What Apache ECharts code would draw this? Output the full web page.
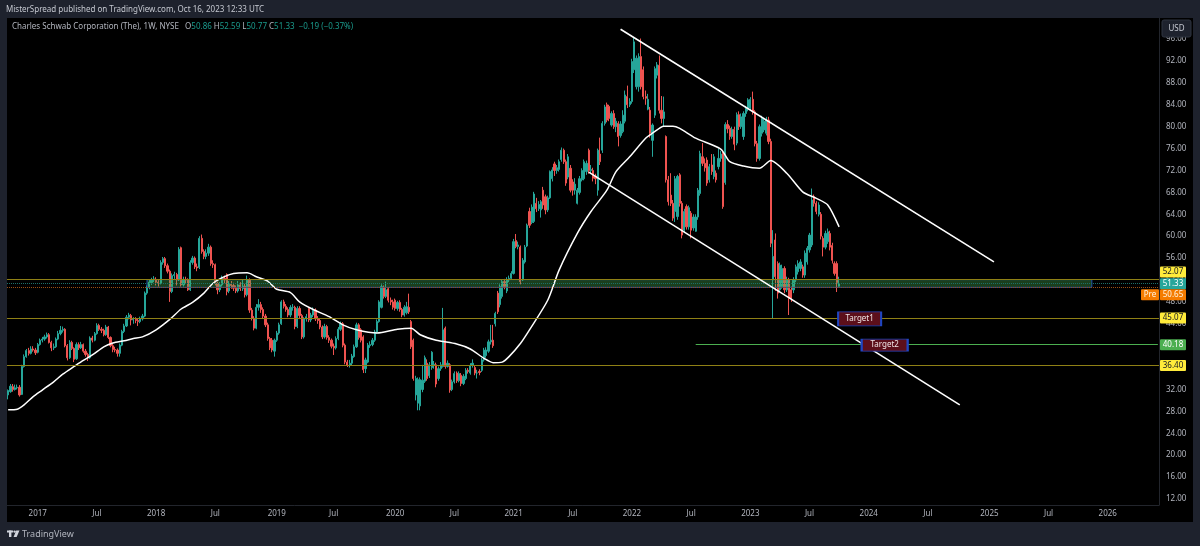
<!DOCTYPE html>
<html>
<head>
<meta charset="utf-8">
<title>SCHW 1W</title>
<style>
    html, body { margin: 0; padding: 0; background: #1e222d; }
    #chart { width: 1200px; height: 546px; }
</style>
<script src="https://cdn.jsdelivr.net/npm/echarts@6/dist/echarts.min.js"></script>
</head>
<body>
<div id="chart"></div>
<script>
// weekly bars, each row: open, close, low, high
const bars2016 = [
    [31.0,31.8,30.2,32.0],[31.6,32.6,31.4,33.0],[32.5,32.0,31.6,33.0],[32.0,32.3,31.8,32.9],[32.3,32.4,32.0,32.9],
    [32.4,31.0,30.7,32.8],[31.1,36.2,31.0,36.5],[36.2,38.0,36.0,38.4],[38.0,39.1,37.8,39.4],[39.1,38.6,38.2,39.6],
    [38.6,39.4,38.4,39.9],[39.4,39.2,38.9,39.9],[39.2,38.7,38.3,39.6]
];
const bars2017 = [
    [38.8,40.2,38.6,40.5],[40.2,41.0,40.0,41.3],[41.0,41.2,40.6,41.6],[41.2,41.6,40.9,42.0],[41.6,42.0,41.3,42.4],
    [42.0,40.6,40.4,42.3],[40.6,39.6,39.0,40.9],[39.6,39.8,39.2,40.4],[39.8,41.2,39.6,41.5],[41.2,42.2,41.0,42.7],
    [42.2,42.8,41.9,43.6],[42.8,43.0,42.4,43.5],[43.0,40.0,39.7,43.2],[40.0,37.8,37.3,40.3],[37.8,40.6,37.6,41.0],
    [40.6,39.5,39.2,40.9],[39.5,37.5,37.0,39.7],[37.6,40.2,37.4,40.6],[40.2,39.6,39.2,40.6],[39.6,40.2,39.4,40.7],
    [40.2,39.0,38.7,40.4],[39.0,38.4,38.0,39.4],[38.4,37.8,37.2,38.7],[37.8,41.4,37.6,41.7],[41.4,41.0,40.6,41.8],
    [41.0,42.2,40.8,42.5],[42.2,43.7,42.0,44.1],[43.7,43.0,42.7,44.0],[43.0,42.8,42.3,43.4],[42.8,42.0,41.7,43.1],
    [42.0,43.4,41.8,43.8],[43.4,41.5,41.2,43.6],[41.5,40.0,39.7,41.7],[40.0,39.3,38.8,40.3],[39.3,39.2,38.8,39.8],
    [39.2,38.6,38.0,39.5],[38.6,40.1,38.0,40.4],[40.1,42.6,39.9,42.9],[42.6,43.6,42.3,44.0],[43.6,45.2,43.4,45.6],
    [45.2,45.6,44.8,46.0],[45.5,44.7,43.7,45.8],[44.7,44.8,44.0,45.2],[44.8,44.6,44.1,45.2],[44.6,44.4,43.6,45.0],
    [44.4,44.9,44.1,45.3],[44.9,45.4,44.6,45.8],[45.4,49.6,45.2,49.9],[49.6,50.6,49.3,51.0],[50.6,51.6,50.3,52.0],
    [51.5,52.0,51.1,52.4],[52.0,52.2,51.6,52.7]
];
const bars2018 = [
    [52.1,51.6,51.0,52.5],[51.6,51.4,50.8,52.0],[51.4,55.2,51.2,55.6],[55.2,55.9,54.8,56.2],[55.9,54.6,54.2,56.2],
    [54.6,53.6,53.2,55.0],[53.6,49.9,48.0,53.9],[49.9,52.8,49.6,53.2],[52.8,53.0,52.2,53.5],[53.0,52.0,51.0,53.3],
    [52.0,57.6,51.8,58.0],[57.9,51.1,50.8,58.1],[51.1,52.1,50.8,52.6],[52.1,52.0,51.4,52.6],[52.0,50.2,50.0,52.3],
    [50.2,55.2,50.0,55.6],[55.2,56.0,54.8,56.4],[56.0,54.4,54.0,56.3],[54.4,54.2,53.6,55.0],[54.3,59.6,54.0,60.0],
    [59.6,57.2,56.8,60.3],[57.2,56.3,55.8,57.6],[56.3,56.9,55.8,57.6],[56.9,58.0,56.4,58.6],[58.0,55.0,54.6,58.3],
    [55.0,54.8,54.2,55.6],[54.8,51.4,51.0,55.0],[51.4,50.2,49.4,51.7],[50.2,51.1,49.8,51.6],[51.1,52.3,50.8,52.8],
    [52.3,52.0,51.4,52.8],[53.0,49.9,49.2,53.2],[50.0,51.2,49.6,51.8],[51.2,51.0,50.4,51.8],[51.0,50.5,50.0,51.5],
    [50.5,50.0,49.6,51.0],[50.0,51.1,49.7,51.8],[51.1,50.4,50.0,51.6],[50.4,50.9,50.0,52.0],[50.9,49.3,48.8,51.3],
    [49.3,52.0,49.0,52.8],[52.0,46.5,46.0,52.3],[46.5,45.0,44.6,46.9],[45.0,43.2,42.8,45.4],[43.2,47.0,43.0,47.6],
    [47.0,47.5,46.4,48.5],[47.5,46.6,46.0,48.0],[46.6,45.4,45.0,47.0],[45.4,43.8,43.4,45.8],[43.8,41.3,40.9,44.2],
    [41.3,39.6,39.2,41.6],[41.0,39.2,38.8,41.4],[39.0,41.0,38.0,41.3]
];
const bars2019 = [
    [41.0,42.3,40.7,42.7],[42.3,43.8,42.0,44.2],[44.0,48.0,43.8,48.3],[48.0,47.2,46.8,48.4],[47.2,46.6,46.2,47.6],
    [46.6,45.6,45.2,47.0],[45.6,47.0,45.2,47.4],[47.0,47.0,46.4,47.6],[47.0,43.5,43.0,47.3],[43.5,46.8,43.2,47.2],
    [46.8,45.5,45.0,47.2],[45.5,41.6,41.2,45.8],[41.6,44.9,41.3,45.2],[44.9,45.3,44.4,45.8],[46.8,44.7,44.3,47.0],
    [44.7,45.6,44.3,46.0],[45.6,46.5,45.2,47.0],[46.5,44.9,44.5,46.8],[44.9,44.6,44.0,45.4],[44.6,43.4,43.0,45.0],
    [43.4,41.6,41.2,43.7],[41.6,43.5,41.3,44.0],[43.5,41.5,41.1,43.8],[41.5,41.0,40.5,41.9],[41.0,39.9,39.5,41.3],
    [39.9,39.6,38.3,40.4],[39.6,41.3,39.3,41.7],[41.3,43.0,41.0,43.4],[43.0,44.0,42.7,44.4],[44.0,40.1,39.7,44.3],
    [40.1,37.0,36.6,40.4],[37.0,36.4,36.1,37.4],[36.4,36.8,36.0,37.4],[36.8,38.1,36.4,38.5],[38.0,39.8,37.8,40.2],
    [39.8,43.8,39.6,44.2],[43.8,41.5,41.1,44.1],[42.9,41.0,40.6,43.2],[41.6,35.6,35.0,41.9],[35.8,37.4,35.0,37.8],
    [37.0,40.1,36.8,40.5],[40.0,40.2,39.6,40.8],[40.2,41.0,39.9,41.4],[41.0,42.5,40.7,42.9],[42.5,44.4,42.2,44.8],
    [44.4,48.0,44.2,48.3],[47.0,50.8,46.8,51.2],[50.7,49.0,48.6,51.0],[49.0,50.2,48.7,51.7],[50.4,48.3,47.9,50.7],
    [48.3,48.0,47.4,48.8],[48.0,47.0,46.6,48.4]
];
const bars2020 = [
    [48.3,46.8,46.4,48.6],[46.8,47.9,46.4,48.2],[47.9,46.6,46.2,48.3],[46.6,45.6,45.2,46.9],[45.6,47.0,45.3,47.4],
    [46.0,47.1,45.7,48.0],[47.0,46.2,45.8,49.5],[44.4,39.8,39.4,44.7],[41.0,34.0,33.6,41.3],[31.0,34.0,30.0,34.5],
    [29.5,33.8,28.2,34.2],[29.0,33.8,28.2,34.2],[32.0,33.7,31.5,36.5],[33.5,37.8,33.2,38.2],[36.8,34.0,33.6,37.5],
    [34.5,36.5,34.1,37.0],[36.0,38.8,35.6,39.0],[36.4,36.6,35.8,37.2],[36.5,33.0,32.4,36.9],[34.0,35.8,33.6,36.2],
    [35.8,36.5,35.4,37.0],[36.2,42.9,36.0,46.9],[43.2,36.2,35.8,43.5],[36.2,36.8,36.0,37.3],[36.5,31.9,31.4,36.8],
    [32.0,33.4,31.7,33.8],[33.4,34.9,33.1,35.3],[35.0,33.6,33.2,35.3],[33.6,34.9,33.3,35.3],[34.6,33.1,32.6,35.0],
    [33.1,34.4,32.8,34.8],[34.0,35.5,33.7,35.9],[35.5,35.3,34.9,35.9],[35.0,36.4,34.7,36.8],[36.4,36.8,36.0,37.5],
    [36.0,35.0,34.6,36.4],[35.0,35.0,34.0,35.6],[35.3,35.1,34.6,35.7],[35.5,37.4,35.2,37.8],[37.4,39.2,37.1,39.6],
    [38.2,39.2,37.8,39.7],[39.0,40.7,38.7,41.1],[40.7,41.0,40.2,43.8],[41.0,40.0,39.6,43.8],[44.0,45.9,43.5,46.2],
    [49.6,46.2,45.8,50.0],[47.5,50.8,47.0,51.2],[49.0,51.7,48.6,52.1],[51.7,50.8,50.3,52.2],[50.0,52.0,49.6,52.5],
    [52.0,52.3,51.6,52.8],[52.3,53.2,52.0,53.6]
];
const bars2021 = [
    [53.2,59.0,53.0,59.5],[59.2,58.1,57.8,60.4],[58.1,58.4,57.6,59.0],[58.0,51.7,51.2,58.3],[52.0,55.6,51.8,56.0],
    [55.3,58.0,55.0,58.4],[58.2,62.0,58.0,62.3],[64.5,62.0,61.5,65.2],[62.5,65.3,62.2,65.8],[62.7,67.7,62.4,68.1],
    [66.0,65.0,64.4,67.0],[65.0,65.8,64.6,66.4],[64.8,66.3,63.4,66.6],[68.4,65.7,65.0,69.0],[67.2,64.8,64.0,67.6],
    [64.8,67.0,64.4,67.4],[67.0,71.8,66.8,72.0],[70.5,72.1,70.0,72.6],[73.2,72.0,71.0,73.6],[72.0,72.5,71.4,73.0],
    [72.2,73.6,71.8,74.0],[74.0,75.7,73.6,76.2],[75.7,73.6,73.2,76.0],[73.6,69.7,69.2,74.0],[70.8,74.5,70.4,75.0],
    [72.4,68.4,68.0,73.0],[69.9,68.4,67.4,70.4],[68.4,69.5,67.6,70.6],[66.0,68.4,65.8,68.8],[68.0,70.5,67.6,71.0],
    [70.3,72.0,70.0,72.4],[70.5,73.6,70.2,74.0],[71.8,73.3,71.2,73.8],[75.7,72.0,71.4,76.0],[72.0,72.2,71.4,73.0],
    [72.0,70.6,70.0,72.5],[71.0,70.5,69.5,71.4],[68.4,75.7,67.4,76.0],[75.0,73.6,73.0,78.0],[75.7,80.6,75.2,81.0],
    [80.6,83.6,80.2,84.0],[84.0,81.2,80.8,84.4],[83.7,81.5,81.0,84.0],[80.3,82.4,80.0,82.8],[82.4,80.0,79.6,83.0],
    [80.0,81.0,79.0,81.6],[80.6,78.2,76.4,81.0],[78.4,80.5,78.0,81.0],[79.1,82.1,78.8,83.0],[81.0,85.8,80.6,86.6],
    [85.5,84.0,83.4,87.5],[84.0,84.6,83.6,85.2]
];
const bars2022 = [
    [84.6,91.9,84.2,92.4],[90.4,95.5,89.8,96.4],[87.3,92.5,86.8,93.0],[87.3,92.8,86.4,93.4],[92.8,87.3,86.8,96.1],
    [90.4,85.5,85.0,91.0],[85.5,85.2,84.0,86.6],[83.2,85.0,83.0,86.0],[83.0,78.8,78.0,83.6],[77.5,80.3,74.5,80.6],
    [82.1,90.6,81.6,91.0],[89.4,91.3,88.8,91.8],[91.2,83.0,82.4,93.0],[83.0,81.5,80.6,85.6],[81.5,82.7,80.0,85.5],
    [78.2,70.3,69.8,78.4],[70.3,66.3,65.6,71.0],[67.5,66.0,65.5,71.5],[66.0,63.3,62.8,66.6],[64.5,70.5,62.6,71.0],
    [63.6,70.9,63.0,71.2],[71.2,66.0,65.4,71.5],[66.0,60.2,59.6,66.4],[61.1,64.5,60.6,65.0],[65.4,61.7,61.2,65.8],
    [61.7,65.2,61.2,65.6],[64.2,61.1,59.6,64.6],[61.5,63.5,61.0,64.0],[60.9,63.5,60.8,64.0],[63.5,68.4,63.0,68.8],
    [67.8,75.1,67.4,75.6],[74.5,73.3,72.8,77.0],[73.3,72.5,71.8,74.2],[73.9,69.7,69.2,74.4],[70.3,72.7,69.8,73.2],
    [73.0,71.8,71.2,75.0],[70.9,74.5,70.4,75.0],[71.5,70.3,69.8,72.0],[72.7,74.2,72.2,76.0],[74.2,75.0,73.6,75.6],
    [75.1,65.4,65.0,75.5],[69.8,80.4,69.4,80.8],[80.4,79.6,78.8,81.2],[79.7,78.2,77.6,80.2],[78.2,79.5,77.8,80.0],
    [79.5,76.8,75.7,80.0],[77.0,82.2,76.6,82.6],[82.2,80.0,79.4,82.8],[80.0,81.8,79.6,82.4],[78.2,82.4,77.6,82.8],
    [82.4,83.3,81.8,83.8],[83.3,84.9,82.8,85.2]
];
const bars2023 = [
    [83.4,85.0,82.9,85.4],[85.0,82.7,82.2,86.4],[82.7,76.9,76.4,83.0],[76.9,74.2,73.6,77.4],[74.2,80.0,73.8,80.4],
    [78.8,81.5,78.2,82.0],[79.4,81.0,79.0,81.6],[78.8,81.2,78.4,81.8],[81.2,77.3,76.8,81.8],[77.3,58.7,58.0,77.8],
    [52.0,56.3,45.0,61.1],[59.3,52.6,50.0,60.5],[55.0,49.6,48.6,55.4],[50.2,54.7,49.8,55.2],[50.8,54.1,50.4,54.8],
    [54.1,50.2,49.6,54.5],[50.2,52.0,49.8,52.6],[52.0,48.6,45.6,52.4],[50.2,48.6,48.0,50.8],[50.2,52.0,49.6,52.5],
    [52.0,54.4,51.6,54.8],[53.5,55.0,53.0,55.6],[54.1,55.3,53.6,55.8],[54.4,52.9,52.4,54.8],[52.9,56.9,52.4,57.4],
    [55.3,57.8,54.8,58.2],[57.5,60.2,57.0,60.6],[58.4,66.6,58.0,68.7],[67.2,66.0,65.4,67.6],[66.0,64.5,64.0,66.4],
    [64.0,65.7,63.6,66.2],[64.0,60.0,59.4,64.4],[59.6,58.0,56.3,60.0],[58.0,60.5,57.6,61.0],[59.0,60.8,58.6,61.4],
    [60.5,58.0,57.4,61.0],[58.3,55.6,55.0,58.8],[55.0,53.2,52.8,55.4],[55.0,51.52,49.8,55.4],[50.86,51.33,50.77,52.59]
];

// moving average: [week index, price]
const maPoints = [
    [0,28.3],[4,28.4],[7,29.2],[11,30.7],[15,31.9],[20,33.4],[24,34.8],[29,36.2],[33,37.3],[37,38.3],[42,39.8],
    [46,40.5],[51,40.9],[55,41.3],[59,41.6],[65,42.9],[71,44.8],[76,46.7],[81,47.9],[86,49.6],[90,51.4],[95,52.6],
    [99,53.2],[105,53.3],[109,52.6],[114,51.8],[118,50.3],[124,49.7],[128,48.0],[134,46.6],[141,45.3],[147,43.8],
    [153,42.9],[162,42.3],[171,43.0],[177,43.2],[181,42.0],[188,41.0],[197,40.3],[203,39.4],[209,37.7],[213,36.9],
    [217,37.0],[220,38.0],[225,40.4],[229,42.9],[237,48.3],[242,53.8],[250,60.5],[256,64.5],[263,68.4],[267,71.8],
    [273,74.5],[280,77.9],[283,78.8],[288,80.1],[292,80.1],[295,79.7],[302,77.9],[313,75.9],[317,73.6],[323,72.8],
    [330,72.4],[335,73.8],[342,71.5],[349,68.1],[355,66.9],[360,65.7],[365,61.7]
];

// drawn channel and levels
const channelUpper = [[269, 97.8], [433, 55.3]];
const channelLower = [[255, 71.7], [418, 29.2]];
const yellowLevels = [52.07, 45.07, 36.40];
const greenLevel = 40.18;
const greenLevelStart = 302;
const lastPrice = 51.33;
const prePrice = 50.65;
const zoneWeeks = [61, 476];
const targetNames = ['Target1', 'Target2'];
const targetSpots = [[374, 44.9], [385, 40.1]];

// axes
const weekCount = 506;
const firstWeek = Date.UTC(2016, 9, 3);
const priceTicks = [12,16,20,24,28,32,36,40,44,48,52,56,60,64,68,72,76,80,84,88,92,96];
const xTickDates = ['2017-01-02','2017-07-03','2018-01-01','2018-07-02','2019-01-07','2019-07-01','2020-01-06',
    '2020-07-06','2021-01-04','2021-07-05','2022-01-03','2022-07-04','2023-01-02','2023-07-03','2024-01-01',
    '2024-07-01','2025-01-06','2025-07-07','2026-01-05'];
const xTickLabels = ['2017','Jul','2018','Jul','2019','Jul','2020','Jul','2021','Jul','2022','Jul','2023','Jul',
    '2024','Jul','2025','Jul','2026'];

// price tags on the right axis
const tagTexts = ['52.07', '51.33', '50.65', '45.07', '40.18', '36.40'];
const tagValues = [52.07, 51.33, 50.65, 45.07, 40.18, 36.40];
const tagShifts = [-7.5, 0, 7.5, 0, 0, 0];
const tagFills = ['#ffeb3b', '#26a69a', '#f57c00', '#ffeb3b', '#4caf50', '#ffeb3b'];
const tagInks = ['#131722', '#ffffff', '#fff3e0', '#131722', '#ffffff', '#131722'];

const UP = '#26a69a';
const DOWN = '#ef5350';
const FONT = '"Noto Sans", sans-serif';

const weeks = [];
for (let i = 0; i < weekCount; i++) {
    weeks.push(new Date(firstWeek + i * 7 * 86400000).toISOString().slice(0, 10));
}
const bars = [].concat(bars2016, bars2017, bars2018, bars2019, bars2020, bars2021, bars2022, bars2023);

document.addEventListener('DOMContentLoaded', function() {
    const chart = echarts.init(document.getElementById('chart'), null, { renderer: 'canvas' });
    chart.setOption(buildOption());
    chart.setOption({ graphic: buildTags(chart) });
});

function buildOption() {
    const levelLines = yellowLevels.map(v => ({
        yAxis: v,
        lineStyle: { color: '#8f8015', width: 1.2, type: 'solid' }
    }));
    // 现价、盘前虚线
    levelLines.push({ yAxis: lastPrice, lineStyle: { color: '#1b6f68', width: 1, type: 'dotted' } });
    levelLines.push({ yAxis: prePrice, lineStyle: { color: '#9c4f12', width: 1, type: 'dotted' } });

    const segment = (pts, color, width) => [
        { coord: pts[0], lineStyle: { color: color, width: width, type: 'solid' } },
        { coord: pts[1] }
    ];

    return {
        animation: false,
        backgroundColor: '#1e222d',
        grid: { left: 7, right: 41, top: 18, bottom: 41, show: false },
        xAxis: {
            type: 'category',
            data: weeks,
            boundaryGap: true,
            axisLine: { lineStyle: { color: '#22252c', width: 1 } },
            axisTick: { show: false },
            splitLine: { show: false },
            axisLabel: {
                color: '#b2b5be',
                fontFamily: FONT,
                fontSize: 8,
                margin: 5,
                hideOverlap: false,
                interval: (index, value) => xTickDates.includes(value),
                formatter: value => xTickLabels[xTickDates.indexOf(value)]
            }
        },
        yAxis: {
            type: 'value',
            position: 'right',
            min: 10.9,
            max: 99.85,
            axisLine: { show: true, lineStyle: { color: '#22252c', width: 1 } },
            axisTick: { show: false },
            splitLine: { show: false },
            axisLabel: {
                color: '#b2b5be',
                fontFamily: FONT,
                fontSize: 8,
                margin: 7,
                customValues: priceTicks,
                formatter: v => v.toFixed(2)
            }
        },
        series: [
            {
                type: 'candlestick',
                data: bars,
                barWidth: 1.7,
                clip: true,
                itemStyle: { color: UP, color0: DOWN, borderColor: UP, borderColor0: DOWN, borderWidth: 1 }
            },
            {
                // 白色均线，通道和水平位也挂在这个系列上
                type: 'line',
                data: maPoints,
                showSymbol: false,
                smooth: 0.25,
                z: 4,
                lineStyle: { color: '#ffffff', width: 1.5 },
                markArea: {
                    silent: true,
                    z: 3,
                    data: [[
                        {
                            xAxis: zoneWeeks[0],
                            yAxis: yellowLevels[0],
                            itemStyle: { color: 'rgba(76,175,80,0.36)', borderColor: '#1f4fb0', borderWidth: 1 }
                        },
                        { xAxis: zoneWeeks[1], yAxis: prePrice }
                    ]]
                },
                markLine: {
                    silent: true,
                    symbol: 'none',
                    label: { show: false },
                    data: levelLines.concat([
                        segment(channelUpper, '#ffffff', 1.6),
                        segment(channelLower, '#ffffff', 1.6),
                        segment([[greenLevelStart, greenLevel], [weekCount - 1, greenLevel]], '#4caf50', 1.2)
                    ])
                },
                markPoint: {
                    silent: true,
                    symbol: 'rect',
                    data: targetNames.map((name, i) => ({
                        coord: targetSpots[i],
                        value: name,
                        symbolSize: i === 0 ? [43, 14] : [46, 12],
                        itemStyle: { color: '#5c0f1a', borderColor: '#1f45c0', borderWidth: 1.2 },
                        label: { show: true, formatter: name, color: '#f0e6e6', fontFamily: FONT, fontSize: 8 }
                    }))
                }
            }
        ],
        graphic: buildFrame()
    };
}

function buildFrame() {
    return [
        { type: 'rect', id: 'plotBg', z: -1, shape: { x: 7, y: 18, width: 1186, height: 504 }, style: { fill: '#000000' } },
        {
            type: 'text', id: 'byline', z: 50, x: 6, y: 10,
            style: {
                text: 'MisterSpread published on TradingView.com, Oct 16, 2023 12:33 UTC',
                fill: '#c5c8d0', font: '8px ' + FONT, verticalAlign: 'middle'
            }
        },
        {
            type: 'text', id: 'legend', z: 50, x: 12, y: 27,
            style: {
                text: '{g|Charles Schwab Corporation (The), 1W, NYSE   O}{t|50.86 }{g|H}{t|52.59 }{g|L}{t|50.77 }{g|C}{t|51.33  −0.19 (−0.37%)}',
                verticalAlign: 'middle',
                rich: {
                    g: { fill: '#b2b5be', fontFamily: FONT, fontSize: 8 },
                    t: { fill: '#1a9a8c', fontFamily: FONT, fontSize: 8 }
                }
            }
        },
        // USD 按钮
        {
            type: 'rect', id: 'usdBox', z: 50,
            shape: { x: 1162, y: 20, width: 29, height: 17, r: 2 },
            style: { fill: '#1e222d', stroke: '#2f3440', lineWidth: 1 }
        },
        {
            type: 'text', id: 'usdText', z: 51, x: 1176.5, y: 28.5,
            style: { text: 'USD', fill: '#c5c8d0', font: '8px ' + FONT, align: 'center', verticalAlign: 'middle' }
        },
        // TradingView 标志
        {
            type: 'group', id: 'logo', z: 50,
            children: [
                { type: 'rect', shape: { x: 7, y: 530.5, width: 6, height: 2 }, style: { fill: '#d1d4dc' } },
                { type: 'rect', shape: { x: 9, y: 530.5, width: 2.4, height: 6.5 }, style: { fill: '#d1d4dc' } },
                { type: 'circle', shape: { cx: 14.6, cy: 531.6, r: 1.2 }, style: { fill: '#d1d4dc' } },
                { type: 'polygon', shape: { points: [[16.2, 530.5], [19.5, 530.5], [16.6, 537], [13.6, 537]] }, style: { fill: '#d1d4dc' } }
            ]
        },
        {
            type: 'text', id: 'logoText', z: 50, x: 22, y: 534.5,
            style: { text: 'TradingView', fill: '#b2b5be', font: '9px ' + FONT, verticalAlign: 'middle' }
        }
    ];
}

function buildTags(chart) {
    const tags = [];
    tagTexts.forEach((text, i) => {
        const y = chart.convertToPixel({ yAxisIndex: 0 }, tagValues[i]) + tagShifts[i];
        tags.push({
            type: 'rect', id: 'tagBox' + i, z: 60,
            shape: { x: 1160, y: y - 5.5, width: 26, height: 11, r: 1 },
            style: { fill: tagFills[i] }
        });
        tags.push({
            type: 'text', id: 'tagText' + i, z: 61, x: 1173, y: y,
            style: { text: text, fill: tagInks[i], font: '8px ' + FONT, align: 'center', verticalAlign: 'middle' }
        });
        if (text === '50.65') {
            tags.push({
                type: 'rect', id: 'preBox', z: 60,
                shape: { x: 1141, y: y - 5.5, width: 18, height: 11, r: 1 },
                style: { fill: tagFills[i] }
            });
            tags.push({
                type: 'text', id: 'preText', z: 61, x: 1150, y: y,
                style: { text: 'Pre', fill: tagInks[i], font: '8px ' + FONT, align: 'center', verticalAlign: 'middle' }
            });
        }
    });
    return tags;
}
</script>
</body>
</html>
